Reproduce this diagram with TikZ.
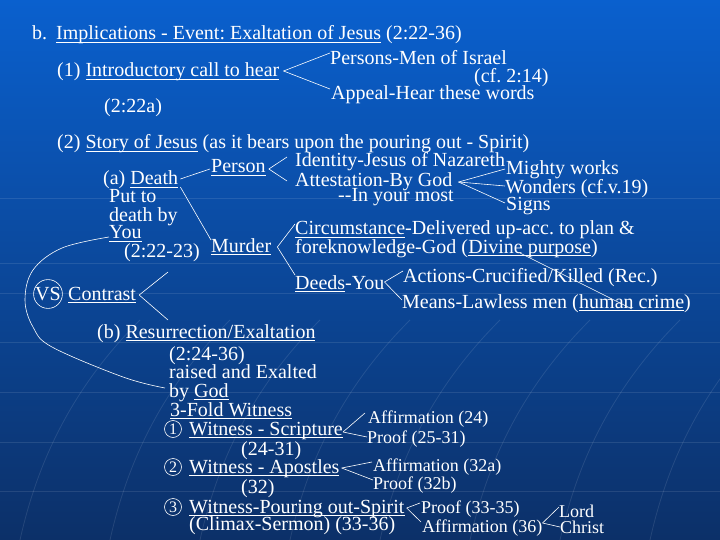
\documentclass[tikz,border=0pt]{standalone}
\usepackage{fontspec}
\setmainfont{Liberation Serif}
\frenchspacing
\newcommand{\uln}[1]{\setbox0\hbox{#1}\rlap{\rule[-3pt]{\wd0}{1.1pt}}\box0\relax}
\definecolor{topblue}{RGB}{10,96,206}
\definecolor{midblue}{RGB}{9,70,160}
\definecolor{botblue}{RGB}{12,48,104}

\begin{document}
\begin{tikzpicture}[x=1pt,y=-1pt]
\tikzset{txt/.style = {anchor=base west, inner sep=0pt, text=white, font=\fontsize{20}{22}\selectfont}}
\tikzset{sm/.style = {txt, font=\fontsize{18}{20}\selectfont}}
\tikzset{num/.style = {circle, draw=white, line width=0.6pt, text=white, inner sep=0pt, minimum size=17pt, font=\fontsize{16}{16}\selectfont}}
\tikzset{link/.style = {draw=white, line width=0.6pt}}
\tikzset{grid/.style = {draw=white, opacity=0.1, line width=0.8pt}}
\useasboundingbox (0,0) rectangle (720,540);
% background
\shade[top color=topblue, middle color=midblue, bottom color=botblue] (0,0) rectangle (720,540);
\foreach \y in {198,263,293,342,392,442,491}
  \draw[grid] (0,\y) -- (720,\y);
\foreach \x in {20,110,200,290,380,470,560,650}
  \draw[grid] (\x,540) .. controls (\x+20,450) and (\x+60,380) .. (\x+120,320);
%\draw (0,0) rectangle (720,540);
% (1)
\node[txt] (b) at (32,40) {b.};
\node[txt] (title) at (56,40) {\uln{Implications - Event: Exaltation of Jesus} (2:22-36)};
\node[txt] (intro) at (57,77) {(1) \uln{Introductory call to hear}};
\node[txt] (r22a) at (104,113) {(2:22a)};
\node[txt] (persons) at (330,65) {Persons-Men of Israel};
\node[txt] (cf) at (474,83) {(cf. 2:14)};
\node[txt] (appeal) at (331,100) {Appeal-Hear these words};
% (2)
\node[txt] (story) at (57,149) {(2) \uln{Story of Jesus} (as it bears upon the pouring out - Spirit)};
\node[txt] (death) at (103,185) {(a) \uln{Death}};
\node[txt] (putto) at (109,203) {Put to};
\node[txt] (deathby) at (109,222) {death by};
\node[txt] (you) at (109,239) {\uln{You}};
\node[txt] (r2223) at (124,258) {(2:22-23)};
\node[txt] (person) at (211,173) {\uln{Person}};
\node[txt] (murder) at (211,252) {\uln{Murder}};
\node[txt] (identity) at (295,167) {Identity-Jesus of Nazareth};
\node[txt] (attest) at (295,187) {Attestation-By God};
\node[txt] (most) at (338,202) {-{}-In your most};
\node[txt] (mighty) at (506,175) {Mighty works};
\node[txt] (wonders) at (505,194) {Wonders (cf.v.19)};
\node[txt] (signs) at (506,211) {Signs};
\node[txt] (circ) at (295,235) {\uln{Circumstance}-Delivered up-acc. to plan \&};
\node[txt] (fore) at (295,253) {foreknowledge-God (};
\node[txt] (divine) at (fore.base east) {\uln{Divine purpose})};
\node[txt] (deeds) at (295,289) {\uln{Deeds}-You};
\node[txt] (actions) at (403,282) {Actions-Crucified/Killed (Rec.)};
\node[txt] (means) at (402,308) {Means-Lawless men (};
\node[txt] (human) at (means.base east) {\uln{human crime})};
\node[num, minimum size=26pt, font=\fontsize{20}{20}\selectfont] (vs) at (48,294) {VS};
\node[txt] (contrast) at (68,300) {\uln{Contrast}};
\coordinate (up) at (168,272);
\coordinate (down) at (168,320);
% (b)
\node[txt] (resur) at (97,338) {(b) \uln{Resurrection/Exaltation}};
\node[txt] (r2436) at (169,360) {(2:24-36)};
\node[txt] (raised) at (169,378) {raised and Exalted};
\node[txt] (bygod) at (169,397) {by \uln{God}};
\node[txt] (fold) at (170,416) {\uln{3-Fold Witness}};
\node[num] (n1) at (173,429) {1};
\node[txt] (scripture) at (189,435) {\uln{Witness - Scripture}};
\node[txt] (r2431) at (241,455) {(24-31)};
\node[num] (n2) at (173,467) {2};
\node[txt] (apostles) at (189,473) {\uln{Witness - Apostles}};
\node[txt] (r32) at (241,493) {(32)};
\node[num] (n3) at (173,507) {3};
\node[txt] (spirit) at (189,513) {\uln{Witness-Pouring out-Spirit}};
\node[txt] (climax) at (189,530) {(Climax-Sermon) (33-36)};
\node[sm] (aff24) at (368,423) {Affirmation (24)};
\node[sm] (pr2531) at (367,443) {Proof (25-31)};
\node[sm] (aff32a) at (373,471) {Affirmation (32a)};
\node[sm] (pr32b) at (373,489) {Proof (32b)};
\node[sm] (pr3335) at (421,513) {Proof (33-35)};
\node[sm] (aff36) at (422,532) {Affirmation (36)};
\node[sm] (lord) at (559,517) {Lord};
\node[sm] (christ) at (560,533) {Christ};
% connectors
\draw[link] ([shift={(4pt,6pt)}]intro.base east) -- ([yshift=12pt]persons.base west);
\draw[link] ([shift={(4pt,6pt)}]intro.base east) -- ([shift={(-1pt,11pt)}]appeal.base west);
\draw[link] ([shift={(2pt,6pt)}]death.base east) -- ([shift={(-1pt,4pt)}]person.base west);
\draw[link] ([shift={(2pt,-2pt)}]death.base east) -- ([yshift=12pt]murder.base west);
\draw[link] ([shift={(3pt,4pt)}]person.base east) -- ([shift={(-8pt,10pt)}]identity.base west);
\draw[link] ([shift={(3pt,4pt)}]person.base east) -- ([shift={(-8pt,6pt)}]attest.base west);
\draw[link] ([shift={(6pt,5pt)}]murder.base east) -- ([yshift=11pt]circ.base west);
\draw[link] ([shift={(6pt,5pt)}]murder.base east) -- ([yshift=14pt]deeds.base west);
\draw[link] ([shift={(6pt,5pt)}]attest.base east) -- ([shift={(-1pt,6pt)}]mighty.base west);
\draw[link] ([shift={(6pt,5pt)}]attest.base east) -- ([yshift=8pt]wonders.base west);
\draw[link] ([shift={(6pt,5pt)}]attest.base east) -- ([shift={(-1pt,8pt)}]signs.base west);
\draw[link] ([yshift=7pt]deeds.base east) -- ([yshift=11pt]actions.base west);
\draw[link] ([yshift=7pt]deeds.base east) -- ([yshift=8pt]means.base west);
\draw[link] ([xshift=-13pt]divine.base) -- ([shift={(-3pt,-1pt)}]human.base);
\draw[link] ([shift={(3pt,5pt)}]contrast.base east) -- (up);
\draw[link] ([shift={(3pt,5pt)}]contrast.base east) -- (down);
\draw[link] plot[smooth, tension=0.6] coordinates {([yshift=2pt]you.base west) (62,248) (33,270) (25,300) (33,327) (52,347) (123,377) ([shift={(-4pt,9pt)}]bygod.base west)};
\draw[link] ([yshift=3pt]scripture.base east) -- ([shift={(-3pt,10pt)}]aff24.base west);
\draw[link] ([yshift=3pt]scripture.base east) -- ([yshift=6pt]pr2531.base west);
\draw[link] ([shift={(2pt,5pt)}]apostles.base east) -- ([shift={(-1pt,9pt)}]aff32a.base west);
\draw[link] ([shift={(2pt,5pt)}]apostles.base east) -- ([yshift=9pt]pr32b.base west);
\draw[link] ([shift={(2pt,5pt)}]spirit.base east) -- ([shift={(-1pt,10pt)}]pr3335.base west);
\draw[link] ([shift={(2pt,5pt)}]spirit.base east) -- ([shift={(-1pt,10pt)}]aff36.base west);
\draw[link] ([yshift=9pt]aff36.base east) -- ([yshift=10pt]lord.base west);
\draw[link] ([yshift=9pt]aff36.base east) -- ([yshift=6pt]christ.base west);
\end{tikzpicture}
\end{document}
